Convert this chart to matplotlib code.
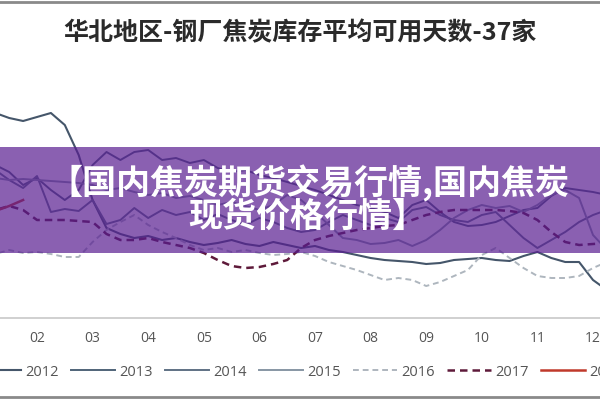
import numpy as np
import matplotlib
matplotlib.use('Agg')
import matplotlib.pyplot as plt
from matplotlib.patches import Rectangle
from matplotlib.lines import Line2D

plt.rcParams['font.family'] = ['Noto Sans CJK SC', 'DejaVu Sans']

# ── Data (weekly-ish samples, quarter-month steps) ────────────────────────────

weeks = np.arange(1, 12.26, 0.25)
month_ticks = [2, 3, 4, 5, 6, 7, 8, 9, 10, 11, 12]
month_labels = ['02', '03', '04', '05', '06', '07', '08', '09', '10', '11', '12']

d2012 = [20.8, 20.5, 20.0, 19.7, 20.1, 20.5, 19.3, 16.3, 11.8, 9.0, 8.4, 8.0, 8.2, 7.8, 8.0, 7.6,
         7.3, 7.5, 7.8, 7.4, 7.2, 7.6, 7.3, 7.0, 7.2, 6.8, 6.6, 6.3, 6.0, 5.8, 5.7, 5.6,
         5.4, 5.5, 5.8, 5.9, 6.0, 5.8, 5.7, 6.2, 6.6, 6.0, 5.6, 5.6, 3.8, 2.8]
d2013 = [16.8, 15.3, 14.6, 13.3, 14.0, 12.8, 11.8, 12.8, 15.3, 16.6, 15.8, 16.6, 16.8, 15.8, 16.0, 15.5,
         15.8, 15.0, 14.6, 14.8, 14.3, 14.0, 13.6, 13.2, 12.8, 12.3, 11.8, 11.3, 11.0, 10.6, 10.0, 11.3,
         11.8, 10.6, 9.6, 9.2, 9.3, 9.6, 10.2, 10.8, 11.0, 12.2, 13.0, 12.8, 12.6, 12.3]
d2014 = [15.0, 14.8, 13.8, 13.0, 14.2, 10.6, 10.9, 10.7, 11.8, 9.4, 9.8, 11.0, 10.0, 10.8, 10.3, 10.6,
         9.8, 10.4, 9.8, 9.3, 10.0, 9.6, 9.0, 8.6, 8.8, 9.6, 10.3, 9.8, 9.3, 10.0, 9.6, 10.8,
         11.1, 10.3, 9.8, 9.6, 10.3, 10.6, 9.3, 8.0, 7.0, 7.8, 8.6, 9.6, 10.3, 10.8]
d2015 = [14.2, 14.0, 13.8, 13.9, 13.8, 13.7, 13.6, 13.5, 13.3, 12.8, 13.0, 12.6, 12.3, 12.5, 12.0, 12.2,
         11.8, 11.3, 11.6, 11.2, 10.8, 11.3, 12.3, 11.8, 10.6, 9.3, 8.0, 7.8, 7.4, 7.5, 7.8, 7.2,
         7.8, 8.8, 10.0, 10.8, 11.3, 11.0, 11.2, 10.6, 11.3, 12.3, 12.8, 12.0, 8.3, 6.8]
d2016 = [6.3, 6.4, 6.8, 6.5, 6.6, 6.4, 6.1, 6.1, 7.6, 8.8, 9.6, 10.3, 9.3, 8.6, 8.0, 7.3,
         6.8, 7.0, 6.6, 6.8, 6.5, 6.3, 6.4, 6.6, 6.2, 5.6, 5.2, 4.8, 4.3, 3.8, 4.0, 3.8,
         3.2, 3.6, 4.2, 4.8, 6.3, 7.0, 6.0, 5.0, 4.2, 4.0, 4.0, 4.2, 5.0, 5.6]
d2017 = [10.6, 10.8, 11.2, 10.8, 9.8, 9.8, 9.8, 9.7, 9.6, 8.4, 7.8, 7.8, 8.0, 7.6, 7.3, 7.0,
         6.5, 5.8, 5.2, 5.0, 5.1, 5.4, 5.8, 7.0, 7.8, 8.2, 8.5, 8.8, 9.0, 9.2, 9.3, 9.8,
         10.3, 10.6, 10.8, 10.8, 10.8, 10.8, 10.7, 10.5, 9.8, 8.6, 7.6, 7.3, 7.4, 7.5]
d2018 = [10.3, 10.7, 11.2, 11.8]

years = ['2012', '2013', '2014', '2015', '2016', '2017', '2018']
series = [d2012, d2013, d2014, d2015, d2016, d2017, d2018]

# ── Styles ────────────────────────────────────────────────────────────────────

colors = ['#45566a', '#4f6378', '#5f7184', '#8796a4', '#aeb6be', '#5e1a3a', '#c0392b']
styles = ['-', '-', '-', '-', (0, (3, 2)), (0, (3, 2)), '-']
widths = [1.5, 1.4, 1.4, 1.4, 1.4, 1.8, 1.8]

# ── Figure ────────────────────────────────────────────────────────────────────

fig = plt.figure(figsize=(6, 4), dpi=100)
fig.patch.set_facecolor('white')

ax = fig.add_axes([0, 1 - 318 / 400, 1, 260 / 400])
for vals, c, ls, lw, yr in zip(series, colors, styles, widths, years):
    ax.plot(weeks[:len(vals)], vals, color=c, linestyle=ls, linewidth=lw, label=yr)

ax.set_xticks(month_ticks)
ax.set_xticklabels(month_labels, fontfamily='Open Sans', fontsize=10, color='#555555')
ax.set_xlim(2 - 37 / 55.6, 2 + 563 / 55.6)
ax.set_ylim(0, 26)
ax.tick_params(axis='x', length=0, pad=9)
ax.set_yticks([])
for s in ['top', 'right', 'left']:
    ax.spines[s].set_visible(False)
ax.spines['bottom'].set_color('#c8c8c8')
ax.spines['bottom'].set_linewidth(1.2)
ax.set_facecolor('none')

handles = [Line2D([], [], color=c, linestyle=ls, linewidth=lw) for c, ls, lw in zip(colors, styles, widths)]
leg = fig.legend(handles, years, loc='center', bbox_to_anchor=(0.5, 1 - 372 / 400), ncol=7,
                 frameon=False, handlelength=3.0, handletextpad=0.3, columnspacing=0.85,
                 prop={'family': 'Open Sans', 'size': 10.5})
for t in leg.get_texts():
    t.set_color('#555555')

fig.text(0.5, 1 - 33 / 400, '华北地区-钢厂焦炭库存平均可用天数-37家', ha='center', va='center',
         fontsize=18, fontweight='bold', color='#2a2a2a')

# frame lines of the screenshot
fig.add_artist(Line2D([0, 1], [0.995, 0.995], transform=fig.transFigure, color='#8a8a8a', lw=2))
fig.add_artist(Line2D([0, 1], [0.008, 0.008], transform=fig.transFigure, color='#8a8a8a', lw=2))

# purple banner overlay
fig.add_artist(Rectangle((0, 1 - 253 / 400), 1, 106 / 400, transform=fig.transFigure,
                         facecolor='#581d91', edgecolor='none', alpha=0.7, zorder=5))
fig.text(0.515, 1 - 183 / 400, '【国内焦炭期货交易行情,国内焦炭', ha='center', va='center',
         fontsize=24.5, fontweight='heavy', color='white', zorder=6)
fig.text(0.512, 1 - 216 / 400, '现货价格行情】', ha='center', va='center',
         fontsize=24.5, fontweight='heavy', color='white', zorder=6)

fig.savefig('out.png', dpi=100)
